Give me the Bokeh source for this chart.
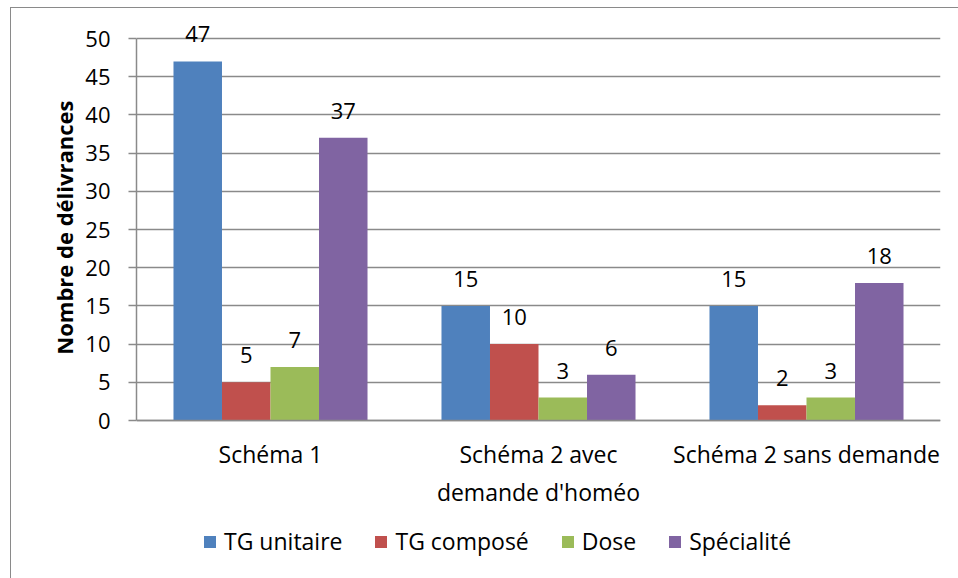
from bokeh.plotting import figure
from bokeh.models import ColumnDataSource, LabelSet, Legend, LegendItem, FixedTicker, Title
from bokeh.core.properties import value
from bokeh.embed import file_html
from bokeh.resources import INLINE

categories = ["Schéma 1", "Schéma 2 avec\ndemande d'homéo", "Schéma 2 sans demande"]
series = ["TG unitaire", "TG composé", "Dose", "Spécialité"]
tg_unitaire = [47, 15, 15]
tg_compose = [5, 10, 2]
dose = [7, 3, 3]
specialite = [37, 6, 18]
y_ticks = [0, 5, 10, 15, 20, 25, 30, 35, 40, 45, 50]
y_title = "Nombre de délivrances"

colors = ["#4F81BD", "#C0504D", "#9BBB59", "#8064A2"]
values = [tg_unitaire, tg_compose, dose, specialite]

FONT = "Open Sans"
FS = "22px"
FS_CAT = "23px"
BAR_W = 0.181
GRAY = "#8a8a8a"

PX_PER_UNIT = 382 / 50.0
Y_TOP = 50 + 23 / PX_PER_UNIT
Y_BOTTOM = -(158 / PX_PER_UNIT)

p = figure(width=958, height=578, x_range=(0, 3), y_range=(Y_BOTTOM, Y_TOP),
           output_backend="svg", toolbar_location=None,
           min_border_left=136, min_border_right=18, min_border_top=15, min_border_bottom=0)
p.outline_line_color = None
p.background_fill_alpha = 0
p.border_fill_alpha = 0
p.styles = {
    "background": ("linear-gradient(#8a8a8a, #8a8a8a) 10px 7px / 1px 100% no-repeat, "
                   "linear-gradient(#8a8a8a, #8a8a8a) 10px 7px / 100% 1px no-repeat, white"),
}

group_centers = [i + 0.5 for i in range(len(categories))]
items = []
for k, (name, vals, col) in enumerate(zip(series, values, colors)):
    off = (k - 1.5) * BAR_W
    xs = [c + off for c in group_centers]
    src = ColumnDataSource(dict(x=xs, top=vals, lbl=[str(v) for v in vals]))
    r = p.vbar(x="x", top="top", width=BAR_W, source=src, fill_color=col, line_color=None)
    items.append(LegendItem(label=name, renderers=[r]))
    labels = LabelSet(x="x", y="top", text="lbl", source=src, text_align="center",
                      text_baseline="alphabetic", y_offset=19,
                      text_font=value(FONT), text_font_size=value(FS), text_color="black")
    p.add_layout(labels)

# x axis drawn at y = 0
p.xaxis.fixed_location = 0
p.xaxis.ticker = FixedTicker(ticks=group_centers)
p.xaxis.major_label_overrides = {c: lab for c, lab in zip(group_centers, categories)}
p.xaxis.major_tick_line_color = None
p.xaxis.minor_tick_line_color = None
p.xaxis.major_label_standoff = 11
p.xaxis.major_label_text_font = FONT
p.xaxis.major_label_text_font_size = FS_CAT
p.xaxis.major_label_text_color = "black"
p.xaxis.axis_line_color = GRAY
p.xaxis.axis_line_width = 1.5

p.yaxis.ticker = FixedTicker(ticks=y_ticks)
p.yaxis.bounds = (0, 50)
p.yaxis.minor_tick_line_color = None
p.yaxis.major_tick_out = 8
p.yaxis.major_tick_in = 0
p.yaxis.major_tick_line_color = GRAY
p.yaxis.major_tick_line_width = 1.5
p.yaxis.axis_line_color = GRAY
p.yaxis.axis_line_width = 1.5
p.yaxis.major_label_standoff = 18
p.yaxis.major_label_text_font = FONT
p.yaxis.major_label_text_font_size = FS
p.yaxis.major_label_text_color = "black"

ytitle = Title(text=y_title, align="right", offset=85, standoff=8,
               text_font=FONT, text_font_style="bold", text_font_size="22px",
               text_color="black")
p.add_layout(ytitle, "left")

p.xgrid.grid_line_color = None
p.ygrid.grid_line_color = GRAY
p.ygrid.grid_line_width = 1.5
p.ygrid.bounds = (0, 50)

legend = Legend(items=items, orientation="horizontal", location=(66, 21),
                glyph_width=15, glyph_height=15, label_standoff=7, spacing=31,
                padding=0, margin=0, border_line_color=None, background_fill_alpha=0,
                label_text_font=FONT, label_text_font_size=FS_CAT, label_text_color="black")
p.add_layout(legend, "center")

open("out.html", "w").write(file_html(p, INLINE))
